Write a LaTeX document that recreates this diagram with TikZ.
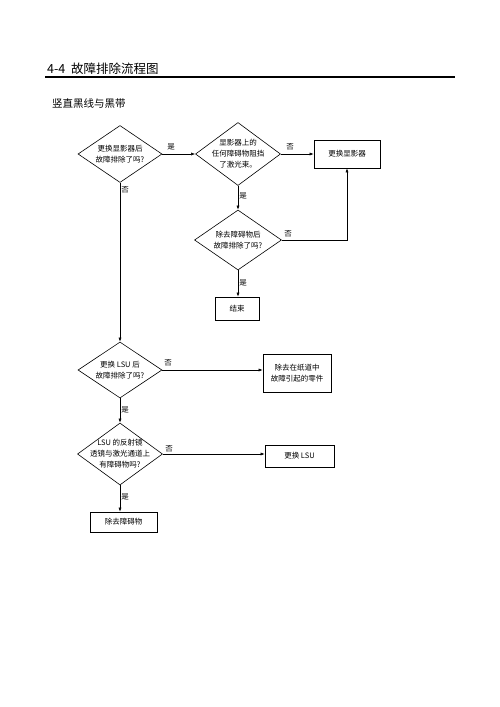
\documentclass[tikz,border=0pt]{standalone}
\usepackage{fontspec}
\setmainfont{Liberation Sans}
\newfontfamily\cjk{Noto Sans CJK SC}
\usetikzlibrary{shapes.geometric,arrows.meta}
\begin{document}
\begin{tikzpicture}[x=1pt,y=-1pt,
 dia/.style={draw,diamond,inner sep=0pt,line width=0.6pt},
 box/.style={draw,rectangle,inner sep=0pt,line width=0.6pt,font=\cjk\fontsize{7.5}{11}\selectfont,align=center},
 txt/.style={font=\cjk\fontsize{7.5}{11}\selectfont,align=center,inner sep=0pt},
 lab/.style={font=\cjk\fontsize{7.5}{9}\selectfont,inner sep=1pt},
 arr/.style={-{Latex[length=4pt,width=3pt]},line width=0.5pt},
 ln/.style={line width=0.5pt}]
\useasboundingbox (0,0) rectangle (500,707);
% header
\node[anchor=base west,inner sep=0pt,font=\cjk\fontsize{12.5}{14}\selectfont] (title) at (47,73) {4-4\ \ 故障排除流程图};
\coordinate (r1) at (45,77);
\coordinate (r2) at (455,77);
\draw[line width=1.1pt] (r1) -- (r2);
\node[anchor=base west,inner sep=0pt,font=\cjk\fontsize{10.5}{12}\selectfont] (sub) at (52,107) {竖直黑线与黑带};
% diamonds
\node[dia,minimum width=84pt,minimum height=57pt] (d1) at (120,154) {};
\node[txt] (d1t) at (d1) {更换显影器后\\故障排除了吗?};
\node[dia,minimum width=85pt,minimum height=63pt] (d2) at (238,154) {};
\node[txt] (d2t) at (d2) {显影器上的\\任何障碍物阻挡\\了激光束。};
\node[dia,minimum width=87pt,minimum height=60pt] (d3) at (238,240) {};
\node[txt] (d3t) at (d3) {除去障碍物后\\故障排除了吗?};
\node[dia,minimum width=84pt,minimum height=56pt] (d4) at (120,370) {};
\node[txt] (d4t) at (d4) {更换 LSU 后\\故障排除了吗?};
\node[dia,minimum width=85pt,minimum height=62pt] (d5) at (120,454) {};
\node[txt] (d5t) at (d5) {LSU 的反射镜\\透镜与激光通道上\\有障碍物吗?};
% boxes
\node[box,minimum width=66pt,minimum height=28pt] (b1) at (347,154) {更换显影器};
\node[box,minimum width=44pt,minimum height=23pt] (b2) at (237,308.5) {结束};
\node[box,minimum width=68pt,minimum height=38pt] (b3) at (297,373) {除去在纸道中\\故障引起的零件};
\node[box,minimum width=69pt,minimum height=22pt] (b4) at (299.5,456) {更换 LSU};
\node[box,minimum width=67pt,minimum height=20pt] (b5) at (123.5,522) {除去障碍物};
% connectors
\draw[arr] (d1.east) -- (d2.west);
\draw[arr] (d2.east) -- (b1.west);
\draw[arr] (d2.south) -- (d3.north);
\draw[arr] (d3.east) -| (b1.south);
\draw[arr] (d3.south) -- (d3.south |- b2.north);
\draw[arr] (d1.south) -- (d4.north);
\draw[arr] (d4.east) -- (d4.east -| b3.west);
\draw[arr] (d4.south) -- (d5.north);
\draw[arr] (d5.east) -- (d5.east -| b4.west);
\draw[arr] (d5.south) -- (d5.south |- b5.north);
% labels
\node[lab] (l1) at (171,147) {是};
\node[lab] (l2) at (290,147) {否};
\node[lab] (l3) at (243,196) {是};
\node[lab] (l4) at (288,234) {否};
\node[lab] (l5) at (243,283) {是};
\node[lab] (l6) at (125,190) {否};
\node[lab] (l7) at (168,363) {否};
\node[lab] (l8) at (125,410) {是};
\node[lab] (l9) at (169,449) {否};
\node[lab] (l10) at (125,497) {是};
\end{tikzpicture}
\end{document}
